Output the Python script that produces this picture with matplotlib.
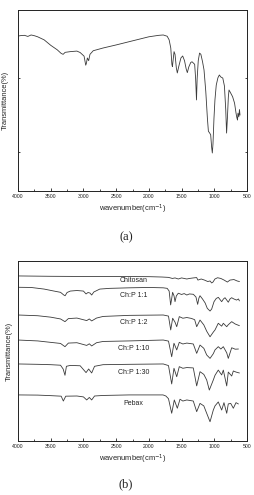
import matplotlib
matplotlib.use("Agg")
import matplotlib.pyplot as plt
from matplotlib.ticker import MultipleLocator, NullFormatter

# ---------------- data ----------------
# panel (a): single spectrum, wavenumber (cm-1) and transmittance (a.u.)
a_wn = [4000, 3950, 3900, 3850, 3800, 3750, 3700, 3600, 3500, 3400, 3340, 3310, 3280,
        3200, 3100, 3050, 2990, 2965, 2955, 2940, 2920, 2900, 2850, 2700, 2500, 2300,
        2100, 2000, 1850, 1780, 1720, 1690, 1665, 1648, 1640, 1630, 1615, 1600, 1580,
        1565, 1545, 1510, 1483, 1455, 1430, 1412, 1390, 1360, 1340, 1300, 1285, 1272,
        1262, 1245, 1225, 1205, 1180, 1157, 1130, 1105, 1090, 1070, 1055, 1040, 1030,
        1020, 1005, 990, 970, 945, 923, 900, 870, 845, 825, 812, 800, 785, 775, 755,
        720, 690, 668, 655, 645, 638, 625, 615, 607]
a_tr = [85.6, 85.9, 86.0, 85.4, 86.2, 85.8, 85.2, 83.5, 80.5, 78.0, 76.0, 75.5, 76.6,
        77.0, 77.3, 76.5, 74.5, 69.5, 70.5, 73.5, 72.0, 75.5, 77.5, 79.0, 80.7, 82.5,
        84.3, 85.2, 86.0, 86.2, 85.5, 83.5, 79.0, 70.0, 68.7, 72.0, 77.0, 75.5, 68.0,
        65.2, 68.5, 73.5, 74.6, 72.0, 67.5, 65.4, 68.5, 71.0, 71.4, 70.0, 62.0, 50.3,
        62.0, 72.0, 76.2, 75.5, 71.5, 66.9, 55.0, 40.0, 33.0, 32.0, 31.0, 24.0, 21.0,
        26.0, 40.0, 50.3, 58.5, 62.5, 64.1, 63.0, 62.4, 58.0, 45.0, 32.0, 40.0, 52.0,
        55.8, 54.5, 52.1, 48.5, 43.1, 40.5, 39.2, 43.0, 41.0, 45.0, 42.0]

# panel (b): stacked spectra (offset transmittance, a.u.)
chitosan_wn = [4000, 3500, 3000, 2500, 2000, 1800, 1700, 1640, 1600, 1550, 1500, 1420,
               1380, 1320, 1270, 1250, 1200, 1150, 1100, 1065, 1040, 1020, 990, 950,
               900, 850, 800, 760, 700, 650, 617]
chitosan_tr = [91.7, 91.5, 91.4, 91.4, 91.3, 91.1, 90.9, 90.3, 90.6, 90.0, 90.6, 90.0,
               90.3, 90.6, 90.8, 89.4, 90.0, 89.4, 88.6, 88.9, 87.8, 88.3, 90.0, 90.7,
               90.3, 89.4, 88.3, 89.4, 89.7, 88.9, 88.6]

chp11_wn = [4000, 3800, 3600, 3450, 3350, 3300, 3280, 3250, 3200, 3100, 3000, 2960,
            2930, 2900, 2874, 2840, 2750, 2600, 2300, 2000, 1780, 1720, 1690, 1667,
            1650, 1637, 1615, 1600, 1580, 1550, 1500, 1460, 1420, 1380, 1320, 1280,
            1254, 1235, 1218, 1180, 1140, 1107, 1065, 1040, 1004, 970, 938, 887, 860,
            836, 786, 760, 735, 700, 660, 630, 617]
chp11_tr = [85.4, 85.3, 84.4, 83.3, 82.6, 81.1, 80.7, 82.5, 83.3, 83.6, 83.3, 81.7,
            82.5, 82.2, 81.1, 82.8, 84.4, 84.8, 85.1, 85.3, 85.1, 84.8, 83.3, 75.6,
            79.4, 82.6, 80.6, 77.4, 80.6, 82.1, 81.4, 81.9, 81.1, 81.7, 81.5, 80.0,
            75.9, 79.4, 80.7, 78.9, 76.7, 73.7, 72.2, 73.3, 77.4, 79.2, 79.8, 77.4, 78.9,
            79.6, 77.1, 78.9, 79.6, 78.9, 78.3, 78.9, 77.9]

chp12_wn = [4000, 3700, 3500, 3350, 3282, 3230, 3100, 2950, 2910, 2874, 2800, 2700,
            2300, 1780, 1700, 1666, 1636, 1600, 1574, 1535, 1480, 1420, 1350, 1300,
            1269, 1218, 1160, 1116, 1065, 1015, 989, 939, 887, 862, 810, 786, 734, 680,
            618]
chp12_tr = [70.0, 69.6, 68.8, 67.8, 66.3, 68.0, 68.3, 66.9, 67.8, 66.7, 68.3, 69.2,
            69.8, 70.0, 69.4, 61.7, 68.2, 66.0, 63.5, 69.1, 68.2, 68.6, 68.1, 67.4,
            63.5, 67.2, 64.5, 61.0, 57.9, 60.5, 61.7, 65.4, 63.8, 65.4, 63.5, 64.6,
            66.3, 65.0, 64.1]

chp110_wn = [4000, 3700, 3500, 3350, 3282, 3230, 3100, 2950, 2910, 2874, 2800, 2700,
             2300, 1780, 1700, 1651, 1616, 1574, 1535, 1480, 1420, 1321, 1269, 1218,
             1160, 1116, 1065, 1015, 989, 939, 900, 862, 810, 786, 734, 680, 633]
chp110_tr = [56.1, 55.6, 54.8, 54.2, 52.4, 54.4, 54.6, 53.1, 54.0, 52.8, 54.6, 55.3,
             55.6, 56.1, 55.5, 46.8, 54.3, 50.6, 54.8, 53.9, 54.4, 53.9, 48.7, 53.3,
             51.5, 47.8, 45.9, 48.5, 50.6, 52.4, 51.1, 52.4, 49.0, 45.9, 51.8, 51.0,
             51.1]

chp130_wn = [4000, 3700, 3500, 3350, 3310, 3282, 3260, 3200, 3050, 2960, 2920, 2874,
             2830, 2700, 2300, 1780, 1700, 1651, 1616, 1574, 1535, 1480, 1420, 1321,
             1269, 1218, 1160, 1116, 1076, 1015, 989, 939, 887, 862, 810, 786, 734,
             709, 668, 618]
chp130_tr = [42.8, 42.6, 42.4, 42.1, 40.0, 36.5, 41.5, 42.0, 41.8, 38.0, 40.0, 37.8,
             41.5, 42.4, 42.6, 42.8, 41.9, 31.7, 40.4, 35.7, 41.3, 40.4, 40.8, 40.6,
             30.6, 38.5, 37.0, 33.9, 28.3, 33.9, 36.5, 39.4, 36.7, 39.4, 30.6, 38.3,
             36.1, 38.9, 38.3, 37.8]

pebax_wn = [4000, 3700, 3500, 3340, 3307, 3270, 3100, 3000, 2950, 2910, 2874, 2830,
            2700, 2300, 1784, 1740, 1700, 1651, 1611, 1565, 1524, 1480, 1420, 1321,
            1269, 1218, 1160, 1116, 1065, 1015, 989, 939, 887, 852, 810, 786, 749, 709,
            668, 633]
pebax_tr = [25.6, 25.5, 25.2, 24.9, 22.2, 24.9, 25.0, 24.5, 22.8, 24.2, 22.8, 25.0,
            25.3, 25.6, 25.6, 25.0, 23.5, 15.4, 22.8, 18.2, 23.2, 22.2, 22.8, 22.2,
            16.3, 20.9, 19.5, 15.4, 10.7, 17.2, 19.5, 21.7, 17.2, 21.3, 15.4, 20.6,
            20.9, 18.2, 21.3, 20.6]

b_series = ["Chitosan", "Ch:P 1:1", "Ch:P 1:2", "Ch:P 1:10", "Ch:P 1:30", "Pebax"]
b_label_y = [88.9, 80.7, 65.9, 51.5, 37.8, 20.9]
b_label_wn = 2230

x_ticks = [4000, 3500, 3000, 2500, 2000, 1500, 1000, 500]
x_label = "wavenumber(cm$^{-1}$)"
y_label = "Transmittance(%)"
panel_tags = ["(a)", "(b)"]

# ---------------- figure ----------------
W, H = 254, 495
fig = plt.figure(figsize=(W / 100, H / 100), dpi=100)
plt.rcParams["font.family"] = ["Liberation Sans", "DejaVu Sans"]

line_col = "#3a3a3a"


def style_axes(ax):
    ax.set_xlim(4000, 500)
    ax.set_ylim(0, 100)
    ax.set_xticks(x_ticks)
    ax.set_xticklabels([str(t) for t in x_ticks])
    ax.xaxis.set_minor_locator(MultipleLocator(250))
    ax.tick_params(axis="x", which="major", direction="in", length=2.2, width=0.6,
                   labelsize=3.7, pad=2.0, colors="#222222", top=False)
    ax.tick_params(axis="x", which="minor", direction="in", length=1.4, width=0.5,
                   top=False)
    ax.set_xlabel(x_label, fontsize=5.4, labelpad=2.5, color="#222222")
    ax.set_ylabel(y_label, fontsize=5.4, labelpad=3.5, color="#222222")
    for s in ax.spines.values():
        s.set_linewidth(0.7)
        s.set_color("#222222")


# panel (a)
ax1 = fig.add_axes([18 / W, 1 - 191 / H, 229 / W, 181 / H])
ax1.plot(a_wn, a_tr, color=line_col, lw=0.6)
style_axes(ax1)
ax1.set_yticks([21.5, 62.4])
ax1.yaxis.set_major_formatter(NullFormatter())
ax1.tick_params(axis="y", direction="in", length=1.5, width=0.5, left=True, right=True)

# panel (b)
ax2 = fig.add_axes([18 / W, 1 - 441 / H, 229 / W, 180 / H])
b_data = [(chitosan_wn, chitosan_tr), (chp11_wn, chp11_tr), (chp12_wn, chp12_tr),
          (chp110_wn, chp110_tr), (chp130_wn, chp130_tr), (pebax_wn, pebax_tr)]
for (wn, tr), name, ly in zip(b_data, b_series, b_label_y):
    ax2.plot(wn, tr, color=line_col, lw=0.6)
    ax2.text(b_label_wn, ly, name, fontsize=5.0, ha="center", va="center",
             color="#222222")
style_axes(ax2)
ax2.set_yticks([])

# panel tags
fig.text(126 / W, 1 - 237 / H, panel_tags[0], fontsize=9, ha="center", va="center",
         family=["Liberation Serif", "DejaVu Serif"], color="#222222")
fig.text(126 / W, 1 - 484 / H, panel_tags[1], fontsize=9, ha="center", va="center",
         family=["Liberation Serif", "DejaVu Serif"], color="#222222")

fig.savefig("out.png", dpi=100, facecolor="white")
